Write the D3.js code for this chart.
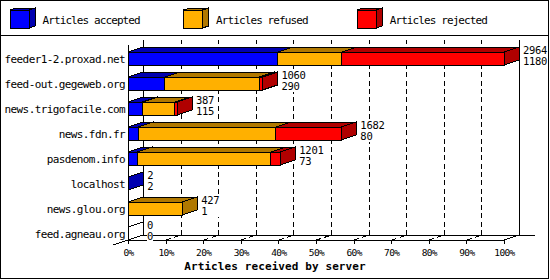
<!DOCTYPE html>
<html><head><meta charset="utf-8">
<script src="https://cdn.jsdelivr.net/npm/d3@7"></script>
<style>
html,body{margin:0;padding:0;background:#fff;}
svg{display:block;}
text{font-family:"DejaVu Sans Mono",monospace;}
</style></head>
<body>
<svg id="c" width="550" height="280"></svg>
<script>
const categories = ["feeder1-2.proxad.net","feed-out.gegeweb.org","news.trigofacile.com","news.fdn.fr","pasdenom.info","localhost","news.glou.org","feed.agneau.org"];
const accepted = [1180, 290, 115, 80, 73, 2, 1, 0];
const refused  = [505, 745, 255, 1084, 1052, 0, 426, 0];
const rejected = [1279, 25, 17, 518, 76, 0, 0, 0];
const seriesNames = ["Articles accepted","Articles refused","Articles rejected"];
const seriesColors = ["#0000ff","#ffb000","#ff0000"];
const seriesDark = ["#0000b0","#b07800","#b00000"];
const tickValues = [0,10,20,30,40,50,60,70,80,90,100];
const xTitle = "Articles received by server";

const svg = d3.select("#c");
svg.append("rect").attr("x",0.5).attr("y",0.5).attr("width",548).attr("height",278)
  .attr("fill","#fff").attr("stroke","#000");
svg.append("line").attr("x1",0).attr("x2",549).attr("y1",35.5).attr("y2",35.5).attr("stroke","#000");

const DX = 15, DY = -5;
const totals = categories.map((c,i)=>accepted[i]+refused[i]+rejected[i]);
const maxTotal = d3.max(totals);
const x = d3.scaleLinear().domain([0,100]).range([128,504]);
const pct = v => v / maxTotal * 100;
const y = d3.scaleBand().domain(categories).range([46,246]);
const floorY = 240;

// legend
const lg = svg.append("g").attr("shape-rendering","crispEdges");
seriesNames.forEach((name,i)=>{
  const lx = 10 + i*173.6, ly = 10;
  const g = lg.append("g");
  g.append("polygon").attr("points",[[lx,ly],[lx+6,ly-2],[lx+25,ly-2],[lx+19,ly]].join(" "))
    .attr("fill",seriesDark[i]).attr("stroke","#000");
  g.append("polygon").attr("points",[[lx+19,ly],[lx+25,ly-2],[lx+25,ly+16],[lx+19,ly+18]].join(" "))
    .attr("fill",seriesDark[i]).attr("stroke","#000");
  g.append("rect").attr("x",lx).attr("y",ly).attr("width",19).attr("height",18)
    .attr("fill",seriesColors[i]).attr("stroke","#000");
  svg.append("text").attr("x",lx+32.5).attr("y",24).attr("font-size","11px")
    .attr("letter-spacing","-0.9px").text(name);
});

// walls and floor
const fr = svg.append("g").attr("stroke","#000").attr("shape-rendering","crispEdges");
fr.append("line").attr("x1",x(0)+0.5).attr("x2",x(0)+0.5).attr("y1",45).attr("y2",floorY);
fr.append("line").attr("x1",x(0)+DX+0.5).attr("x2",x(0)+DX+0.5).attr("y1",40).attr("y2",floorY+DY);
fr.append("line").attr("x1",x(100)+DX+0.5).attr("x2",x(100)+DX+0.5).attr("y1",40).attr("y2",floorY+DY);
fr.append("line").attr("x1",x(0)).attr("x2",x(100)).attr("y1",floorY+0.5).attr("y2",floorY+0.5);
fr.append("line").attr("x1",x(0)+DX).attr("x2",x(100)+DX+16).attr("y1",floorY+DY+0.5).attr("y2",floorY+DY+0.5);
fr.append("line").attr("x1",x(0)-DX).attr("y1",floorY-DY).attr("x2",x(0)+DX).attr("y2",floorY+DY);
fr.append("line").attr("x1",x(100)).attr("y1",floorY).attr("x2",x(100)+DX).attr("y2",floorY+DY);

// grid
const grid = svg.append("g").attr("stroke","#000").attr("stroke-dasharray","5,3.3").attr("shape-rendering","crispEdges");
tickValues.filter(t=>t>0&&t<100).forEach(t=>{
  const bx = x(t)+DX+0.5;
  grid.append("line").attr("x1",bx).attr("x2",bx).attr("y1",floorY+DY).attr("y2",40);
  grid.append("line").attr("x1",x(t)+0.5).attr("y1",floorY).attr("x2",bx).attr("y2",floorY+DY);
});

// axis
const ax = svg.append("g").attr("transform",`translate(0,${floorY})`)
  .call(d3.axisBottom(x).tickValues(tickValues).tickFormat(d=>d+"%").tickSize(4).tickSizeOuter(0));
ax.select(".domain").remove();
ax.selectAll("line").attr("shape-rendering","crispEdges");
ax.selectAll("text").attr("y",16).attr("dy",0).attr("font-size","9.5px")
  .attr("letter-spacing","-0.6px").attr("font-family","DejaVu Sans Mono").attr("fill","#000");

svg.append("text").attr("x",275).attr("y",270).attr("text-anchor","middle")
  .attr("font-size","11px").attr("font-weight","bold").attr("letter-spacing","0.1px").text(xTitle);

// bars
const bars = svg.append("g").attr("stroke","#000").attr("shape-rendering","crispEdges");
const series = [accepted, refused, rejected];
categories.forEach((cat,i)=>{
  const c = y(cat) + y.bandwidth()/2;
  const top = Math.round(c - 6.5), h = 13;
  let cum = 0;
  if (totals[i] === 0) {
    const x0 = x(0);
    bars.append("polygon").attr("points",[[x0,top],[x0+DX,top+DY],[x0+DX,top+h+DY],[x0,top+h]].join(" "))
      .attr("fill","#fff");
  }
  series.forEach((s,k)=>{
    const v = s[i];
    if (v <= 0) return;
    const x0 = x(pct(cum)), x1 = x(pct(cum+v));
    cum += v;
    const g = bars.append("g");
    g.append("polygon").attr("points",[[x0,top],[x0+DX,top+DY],[x1+DX,top+DY],[x1,top]].join(" "))
      .attr("fill",seriesDark[k]);
    g.append("polygon").attr("points",[[x1,top],[x1+DX,top+DY],[x1+DX,top+h+DY],[x1,top+h]].join(" "))
      .attr("fill",seriesDark[k]);
    g.append("rect").attr("x",x0).attr("y",top).attr("width",Math.max(0,x1-x0)).attr("height",h)
      .attr("fill",seriesColors[k]);
  });
  // category label
  svg.append("text").attr("x",125).attr("y",c+4).attr("text-anchor","end")
    .attr("font-size","11px").attr("letter-spacing","-0.6px").text(cat);
  // value labels
  const lx = x(pct(totals[i])) + DX + 4;
  const vg = svg.append("g");
  const bg = vg.append("rect").attr("fill","#fff");
  const t1 = vg.append("text").attr("x",lx).attr("y",c-4.5).attr("font-size","10.5px").attr("letter-spacing","-0.3px").text(totals[i]);
  const t2 = vg.append("text").attr("x",lx).attr("y",c+6.5).attr("font-size","10.5px").attr("letter-spacing","-0.3px").text(accepted[i]);
  const b1 = t1.node().getBBox(), b2 = t2.node().getBBox();
  const bx0 = Math.min(b1.x,b2.x), bx1 = Math.max(b1.x+b1.width,b2.x+b2.width);
  bg.attr("x",bx0).attr("y",b1.y+1).attr("width",bx1-bx0).attr("height",(b2.y+b2.height)-b1.y-1);
});
</script>
</body></html>
